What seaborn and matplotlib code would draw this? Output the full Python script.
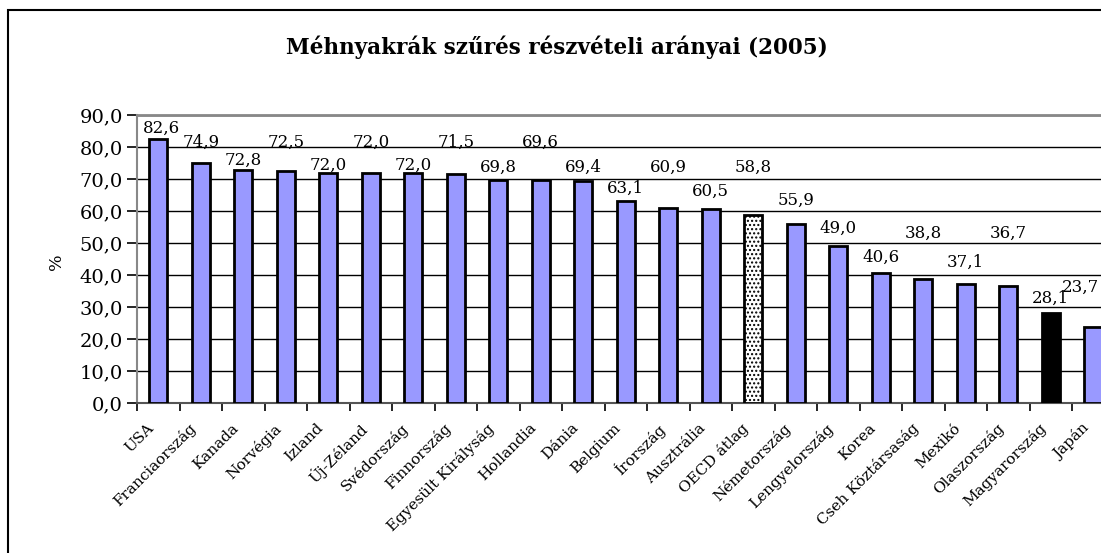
import numpy as np
import pandas as pd
import matplotlib
matplotlib.use("Agg")
import matplotlib.pyplot as plt
import matplotlib.transforms as mtransforms
from matplotlib.patches import Rectangle
import seaborn as sns

# Adatok
orszagok = ["USA", "Franciaország", "Kanada", "Norvégia", "Izland", "Új-Zéland",
            "Svédország", "Finnország", "Egyesült Királyság", "Hollandia", "Dánia",
            "Belgium", "Írország", "Ausztrália", "OECD átlag", "Németország",
            "Lengyelország", "Korea", "Cseh Köztársaság", "Mexikó", "Olaszország",
            "Magyarország", "Japán"]
arany = [82.6, 74.9, 72.8, 72.5, 72.0, 72.0, 72.0, 71.5, 69.8, 69.6, 69.4,
         63.1, 60.9, 60.5, 58.8, 55.9, 49.0, 40.6, 38.8, 37.1, 36.7, 28.1, 23.7]
# felirat magassagok (Excel elrendezese szerint)
felirat_y = [85.9, 81.5, 75.9, 81.5, 74.4, 81.5, 74.4, 81.5, 73.8, 81.5, 73.8,
             67.2, 73.8, 66.0, 73.8, 63.4, 54.7, 45.6, 53.1, 44.1, 53.1, 32.8, 36.2]
felirat_dx = [0.08] + [0] * 21 + [-0.3]
y_ticks = [0, 10, 20, 30, 40, 50, 60, 70, 80, 90]

df = pd.DataFrame({"orszag": orszagok, "arany": arany})

sns.set_style("white")
plt.rcParams["font.family"] = ["DejaVu Serif"]
plt.rcParams["text.color"] = "black"
plt.rcParams["xtick.color"] = "black"
plt.rcParams["ytick.color"] = "black"
plt.rcParams["axes.labelcolor"] = "black"

fig = plt.figure(figsize=(11.01, 5.53), dpi=100)
ax = fig.add_axes([137 / 1101, 1 - 403 / 553, 977.5 / 1101, 288 / 553])

sns.barplot(data=df, x="orszag", y="arany", color="#9999FF", saturation=1,
            edgecolor="black", linewidth=2, width=0.42, ax=ax, zorder=3)

# OECD atlag - pottyos, Magyarorszag - fekete
for i, p in enumerate(ax.patches):
    if orszagok[i] == "OECD átlag":
        p.set_facecolor("white")
        p.set_hatch("....")
    elif orszagok[i] == "Magyarország":
        p.set_facecolor("black")

# ertekfeliratok
for i, v in enumerate(arany):
    ax.text(i + felirat_dx[i], felirat_y[i], f"{v:.1f}".replace(".", ","),
            ha="center", va="center", fontsize=12, zorder=5)

ax.set_xlim(-0.5, len(orszagok) - 0.5)
ax.set_ylim(0, 90)
ax.set_yticks(y_ticks)
ax.set_yticklabels([f"{t:.1f}".replace(".", ",") for t in y_ticks], fontsize=14)
ax.yaxis.grid(True, color="black", linewidth=1, zorder=0)
ax.set_axisbelow(True)
ax.set_xlabel("")
ax.set_ylabel("")

# x feliratok
ax.tick_params(axis="x", which="major", length=0, pad=2)
ax.set_xticks(range(len(orszagok)))
ax.set_xticklabels(orszagok, rotation=45, ha="right", rotation_mode="anchor", fontsize=11)
off = mtransforms.ScaledTranslation(-0.12, -0.15, fig.dpi_scale_trans)
for lab in ax.get_xticklabels():
    lab.set_transform(lab.get_transform() + off)
ax.set_xticks(np.arange(-0.5, len(orszagok), 1), minor=True)
ax.tick_params(axis="x", which="minor", length=6, width=1.2, color="black", direction="out", bottom=True)
ax.tick_params(axis="y", length=7, width=1.2, color="black", direction="out", left=True, pad=3)

for s in ["top", "left", "bottom", "right"]:
    ax.spines[s].set_visible(True)
ax.spines["top"].set_color("#888888")
ax.spines["top"].set_linewidth(2)
ax.spines["left"].set_color("#888888")
ax.spines["left"].set_linewidth(1.5)
ax.spines["bottom"].set_color("#555555")
ax.spines["bottom"].set_linewidth(1.5)
ax.spines["right"].set_visible(False)

fig.text(557 / 1101, 1 - 47 / 553, "Méhnyakrák szűrés részvételi arányai (2005)",
         ha="center", va="center", fontsize=15.5, fontweight="bold")
fig.text(56 / 1101, 1 - 262 / 553, "%", rotation=90, ha="center", va="center", fontsize=12.5)

# diagram keret
fig.patches.append(Rectangle((8 / 1101, -0.1), 1.2, (553 - 10) / 553 + 0.1,
                             transform=fig.transFigure, fill=False,
                             edgecolor="black", linewidth=1.5, zorder=10))

fig.savefig("out.png", dpi=100)
